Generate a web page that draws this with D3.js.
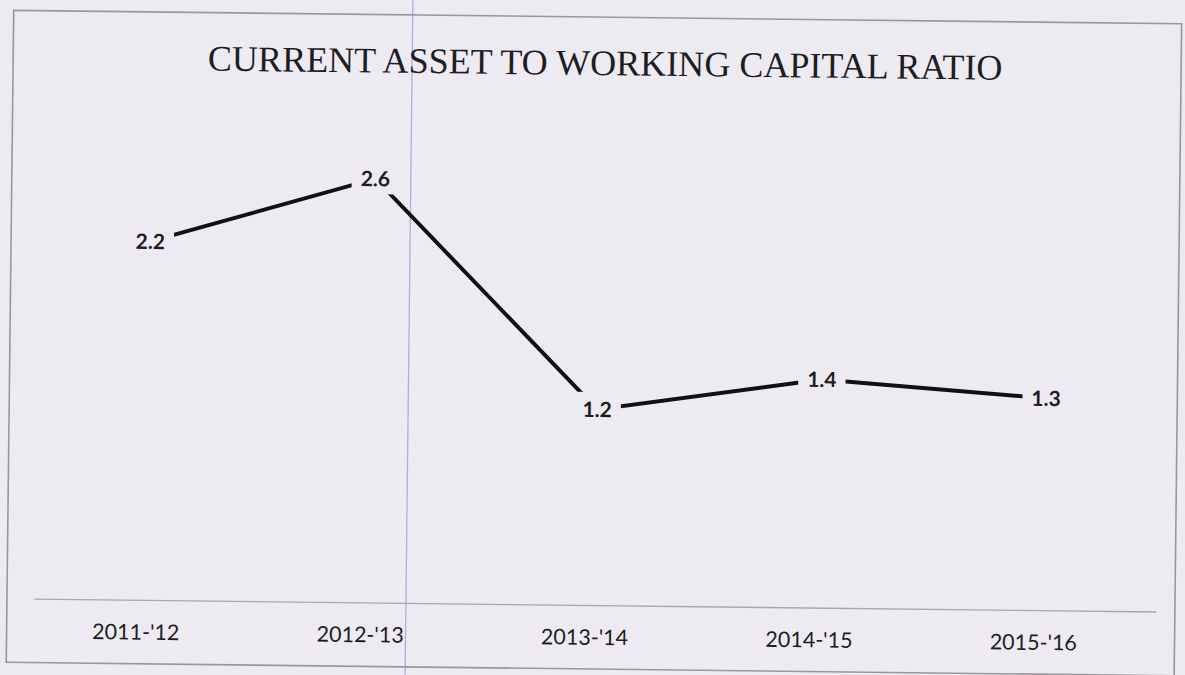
<!DOCTYPE html>
<html>
<head>
<meta charset="utf-8">
<script src="https://cdn.jsdelivr.net/npm/d3@7"></script>
<style>
  html, body { margin: 0; padding: 0; background: #eeeaf2; }
  svg { display: block; }
</style>
</head>
<body>
<svg id="chart" width="1185" height="675"></svg>
<script>
// Chart data
const title = "CURRENT ASSET TO WORKING CAPITAL RATIO";
const years = ["2011-'12", "2012-'13", "2013-'14", "2014-'15", "2015-'16"];
const ratios = [2.2, 2.6, 1.2, 1.4, 1.3];

const W = 1185, H = 675;
const paper = "#eeeaf2";
const ink = "#1e1e22";

const svg = d3.select("#chart");
svg.append("rect").attr("width", W).attr("height", H).attr("fill", paper);

// Page is printed slightly askew
const page = svg.append("g").attr("transform", "rotate(0.66, 592, 337)");

// Ruled line on the paper
page.append("line")
  .attr("x1", 409).attr("x2", 409).attr("y1", -20).attr("y2", H + 20)
  .attr("stroke", "#b6a8e2").attr("stroke-width", 1.3);

// Chart area frame
page.append("rect")
  .attr("x", 10).attr("y", 17).attr("width", 1168).attr("height", 652)
  .attr("fill", "none").attr("stroke", "#9a979c").attr("stroke-width", 1.6);

const x = d3.scaleBand().domain(years).range([37, 1159]);
const y = d3.scaleLinear().domain([0, 3]).range([605, 116]);

// Category axis
const axis = page.append("g")
  .attr("transform", `translate(0,${y(0)})`)
  .call(d3.axisBottom(x).tickSize(0).tickPadding(0));
axis.select(".domain").attr("stroke", "#a9a6ad").attr("stroke-width", 1.3);
axis.selectAll("text")
  .attr("font-family", "Lato, 'Open Sans', sans-serif")
  .attr("font-size", 21.5)
  .attr("fill", ink)
  .attr("dx", -10)
  .attr("dy", "1.85em");

// Title
const t = page.append("text")
  .attr("x", 602).attr("y", 75)
  .attr("text-anchor", "middle")
  .attr("font-family", "'Liberation Serif', 'Times New Roman', serif")
  .attr("font-size", 36)
  .attr("fill", ink)
  .text(title);
const tw = t.node().getComputedTextLength();
t.attr("font-size", 36 * 795 / tw);

// Series line
const cx = d => x(d.year) + x.bandwidth() / 2;
const pts = years.map((yr, i) => ({ year: yr, value: ratios[i] }));
page.append("path")
  .datum(pts)
  .attr("fill", "none")
  .attr("stroke", "#111")
  .attr("stroke-width", 3.9)
  .attr("d", d3.line().x(cx).y(d => y(d.value)));

// Data labels, each on a paper-coloured patch over the line
const lab = page.append("g").selectAll("g").data(pts).join("g")
  .attr("transform", d => `translate(${cx(d)},${y(d.value)})`);
const txt = lab.append("text")
  .attr("text-anchor", "middle")
  .attr("dy", "0.36em")
  .attr("font-family", "Lato, 'Open Sans', sans-serif")
  .attr("font-weight", "bold")
  .attr("font-size", 21)
  .attr("fill", ink)
  .text(d => d.value.toFixed(1));
txt.each(function() {
  const b = this.getBBox();
  d3.select(this.parentNode).insert("rect", "text")
    .attr("x", b.x - 9).attr("y", b.y - 4)
    .attr("width", b.width + 18).attr("height", b.height + 8)
    .attr("fill", paper);
});
</script>
</body>
</html>
